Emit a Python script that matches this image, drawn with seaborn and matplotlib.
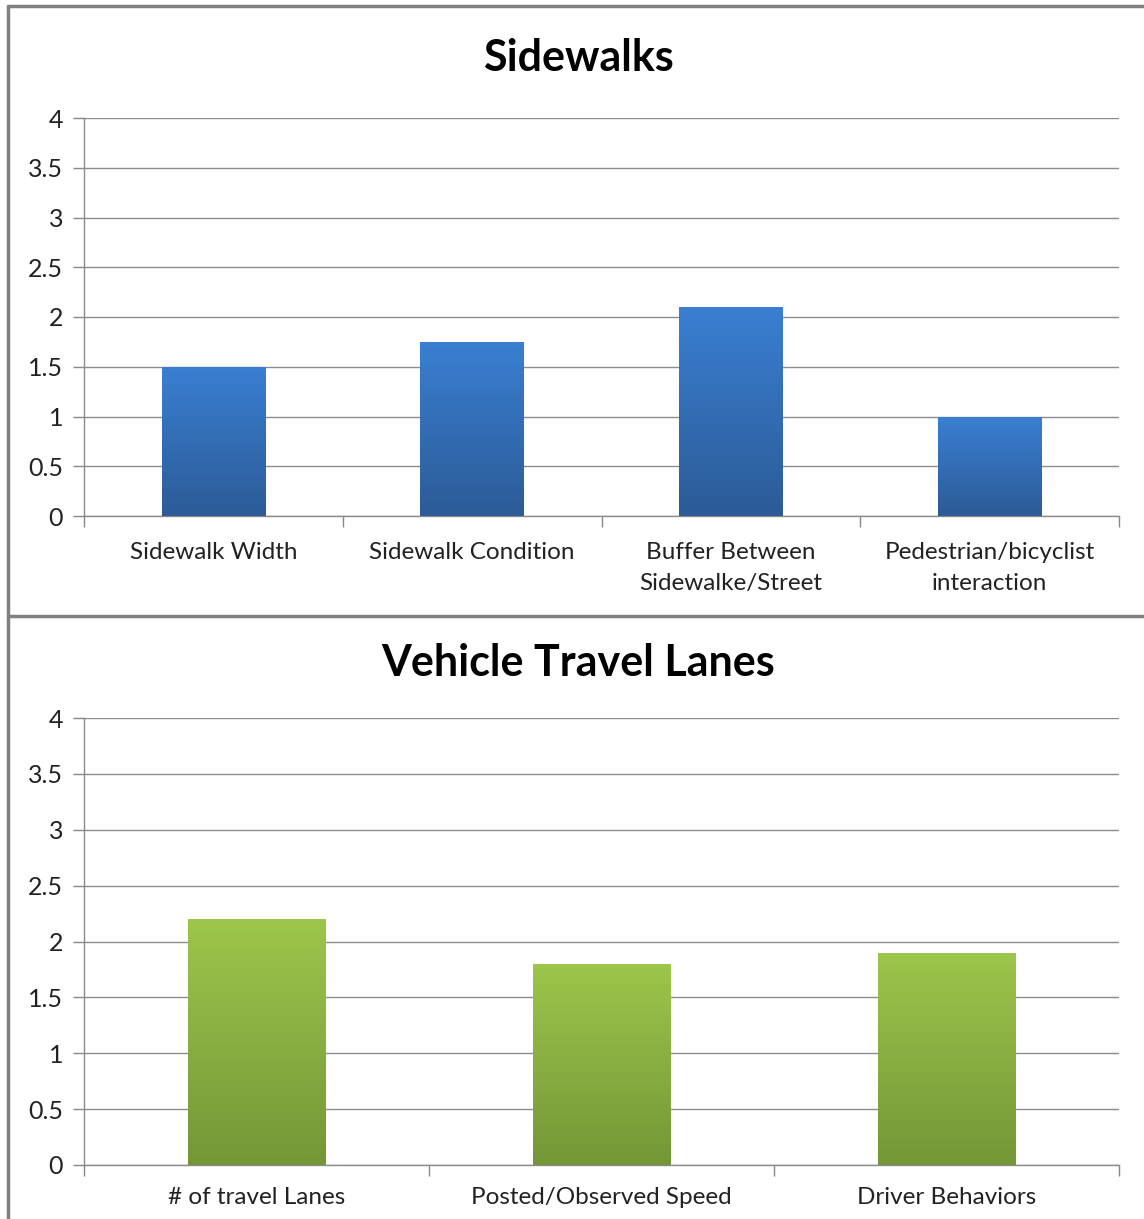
import numpy as np
import pandas as pd
import matplotlib
matplotlib.use("Agg")
import matplotlib.pyplot as plt
from matplotlib.colors import LinearSegmentedColormap
from matplotlib.lines import Line2D
import seaborn as sns

# data
sidewalk_cats = ["Sidewalk Width", "Sidewalk Condition",
                 "Buffer Between\nSidewalke/Street", "Pedestrian/bicyclist\ninteraction"]
sidewalk_vals = [1.5, 1.75, 2.1, 1.0]

lane_cats = ["# of travel Lanes", "Posted/Observed Speed", "Driver Behaviors"]
lane_vals = [2.2, 1.8, 1.9]

y_ticks = [0, 0.5, 1, 1.5, 2, 2.5, 3, 3.5, 4]
y_labels = ["0", "0.5", "1", "1.5", "2", "2.5", "3", "3.5", "4"]

sns.set_style("white")
plt.rcParams['font.family'] = ['Lato', 'DejaVu Sans']

W, H = 1144, 1219
fig = plt.figure(figsize=(W / 100, H / 100), dpi=100)
fig.patch.set_facecolor("white")

ax1 = fig.add_axes([84 / W, 1 - 516 / H, (1119 - 84) / W, (516 - 118) / H])
ax2 = fig.add_axes([84 / W, 1 - 1165 / H, (1119 - 84) / W, (1165 - 718) / H])

blue = LinearSegmentedColormap.from_list("b", ["#2c5b97", "#3a7fd2"])
green = LinearSegmentedColormap.from_list("g", ["#759637", "#9dc64b"])

def draw_panel(ax, cats, vals, cmap, xpad):
    df = pd.DataFrame({"cat": cats, "val": vals})
    sns.barplot(data=df, x="cat", y="val", ax=ax, width=0.4, color="#3a7fd2",
                saturation=1, zorder=3)
    grad = np.linspace(0, 1, 256).reshape(-1, 1)
    for p in ax.patches:
        x0, y0 = p.get_x(), p.get_y()
        w, h = p.get_width(), p.get_height()
        p.set_facecolor("none")
        p.set_edgecolor("none")
        im = ax.imshow(grad, cmap=cmap, origin="lower", aspect="auto",
                       extent=[x0, x0 + w, y0, y0 + h], zorder=3)
        im.set_clip_path(p)
    n = len(cats)
    ax.set_xlim(-0.5, n - 0.5)
    ax.set_ylim(0, 4)
    ax.set_yticks(y_ticks)
    ax.set_yticklabels(y_labels)
    ax.set_xticks(np.arange(-0.5, n, 1.0))
    ax.set_xticklabels([""] * (n + 1))
    ax.set_xticks(np.arange(n), minor=True)
    ax.set_xticklabels(cats, minor=True, linespacing=1.55)
    ax.tick_params(axis="x", which="major", length=8, width=1, color="#888888",
                   direction="out", bottom=True)
    ax.tick_params(axis="x", which="minor", length=0, pad=xpad, labelsize=17.5,
                   labelcolor="#222222")
    ax.tick_params(axis="y", length=8, width=1, color="#888888", direction="out",
                   left=True, pad=7, labelsize=18, labelcolor="#222222")
    ax.grid(axis="y", color="#8c8c8c", linewidth=1, zorder=0)
    ax.set_axisbelow(True)
    for s in ["top", "right"]:
        ax.spines[s].set_visible(False)
    for s in ["left", "bottom"]:
        ax.spines[s].set_color("#8c8c8c")
        ax.spines[s].set_linewidth(1)
    ax.set_xlabel("")
    ax.set_ylabel("")

draw_panel(ax1, sidewalk_cats, sidewalk_vals, blue, 19)
draw_panel(ax2, lane_cats, lane_vals, green, 16)

fig.text(578 / W, 1 - 58 / H, "Sidewalks", ha="center", va="center",
         fontsize=31, fontweight="bold", color="black")
fig.text(578 / W, 1 - 663 / H, "Vehicle Travel Lanes", ha="center", va="center",
         fontsize=31, fontweight="bold", color="black")

# panel borders
bc = "#808080"
fig.add_artist(Line2D([8 / W, 1], [1 - 6 / H, 1 - 6 / H], color=bc, lw=2.5))
fig.add_artist(Line2D([8 / W, 8 / W], [1 - 6 / H, 0], color=bc, lw=2.5))
fig.add_artist(Line2D([8 / W, 1], [1 - 616 / H, 1 - 616 / H], color=bc, lw=2.5))

fig.savefig("out.png", dpi=100, facecolor="white")
